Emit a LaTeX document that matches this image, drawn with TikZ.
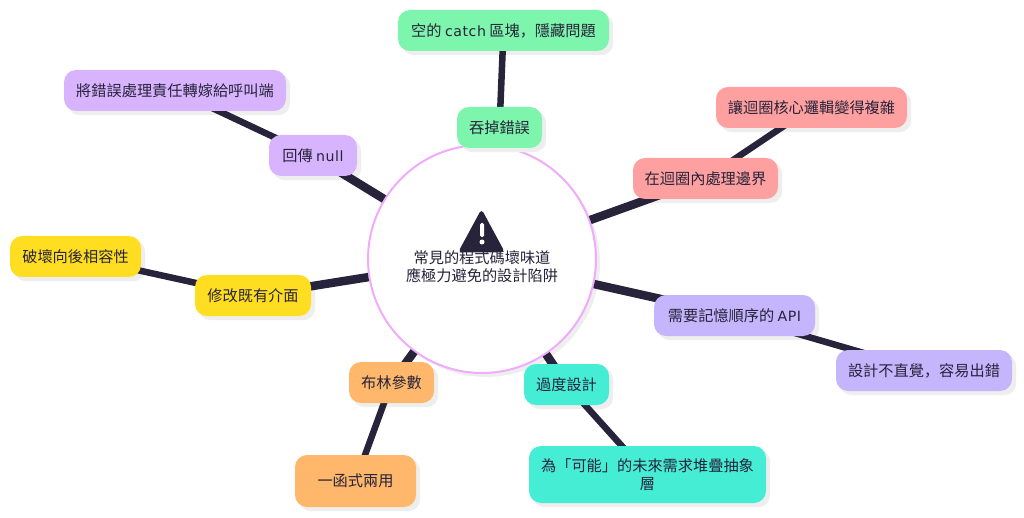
\documentclass[tikz,border=0pt]{standalone}
\usepackage{fontspec}
\setmainfont{Noto Sans CJK SC}
\newfontfamily\latinfont{DejaVu Sans}[Scale=0.93,LetterSpace=4]
\usetikzlibrary{shadows,backgrounds}
\definecolor{inkdark}{HTML}{27233A}
\definecolor{shadowgray}{HTML}{EEEEEE}
\definecolor{greenbox}{HTML}{7DF5AC}
\definecolor{redbox}{HTML}{FFA0A0}
\definecolor{lilacbox}{HTML}{D8B4FE}
\definecolor{violetbox}{HTML}{C4B5FD}
\definecolor{tealbox}{HTML}{46EDD5}
\definecolor{orangebox}{HTML}{FFB86B}
\definecolor{yellowbox}{HTML}{FFDE21}
\definecolor{rootline}{HTML}{F0ABFC}
\tikzstyle{topic} = [rectangle, rounded corners=12pt, minimum height=41pt, inner sep=0pt, align=center, text=inkdark, font=\fontsize{15.2}{17.5}\selectfont]
\tikzstyle{root} = [circle, draw=rootline, line width=2pt, fill=white, minimum size=228pt, inner sep=0pt, drop shadow={shadow xshift=4pt, shadow yshift=-4pt, fill=shadowgray, opacity=1}]
\tikzstyle{caption} = [align=center, inner sep=0pt, text=inkdark, font=\fontsize{15.2}{17.5}\selectfont]
\tikzstyle{backing} = [fill=shadowgray, rounded corners=12pt]
\tikzstyle{branch} = [draw=inkdark, line width=8.5pt]
\tikzstyle{twig} = [draw=inkdark, line width=6.5pt]
\begin{document}
\begin{tikzpicture}[x=1pt,y=-1pt]
\useasboundingbox (0,0) rectangle (1024,518);
\fill [inkdark, rounded corners=4pt] (481.5,209) -- (458,252.5) -- (505,252.5) -- cycle;
\fill [white, rounded corners=1.5pt] (480,223) rectangle (484,237);
\fill [white] (482,242) circle (2.5pt);
\node (title) [caption] at (482,266.5) {常見的程式碼壞味道\\應極力避免的設計陷阱};

\node (swallow) [topic, fill=greenbox, minimum width=85pt] at (499.5,127.5) {吞掉錯誤};
\node (catch) [topic, fill=greenbox, minimum width=211pt] at (503.5,30.5) {空的 {\latinfont catch} 區塊，隱藏問題};
\node (bound) [topic, fill=redbox, minimum width=145pt] at (705.5,178.5) {在迴圈內處理邊界};
\node (loop) [topic, fill=redbox, minimum width=191pt] at (811.5,107.5) {讓迴圈核心邏輯變得複雜};
\node (order) [topic, fill=violetbox, minimum width=161pt] at (734.5,315.5) {需要記憶順序的 {\latinfont API}};
\node (intuit) [topic, fill=violetbox, minimum width=176pt] at (924,370.5) {設計不直覺，容易出錯};
\node (over) [topic, fill=tealbox, minimum width=85pt] at (566.5,384.5) {過度設計};
\node (stack) [topic, fill=tealbox, minimum width=237pt, minimum height=57pt] at (647.5,474.5) {為「可能」的未來需求堆疊抽象\\層};
\node (flag) [topic, fill=orangebox, minimum width=85pt] at (391.5,382.5) {布林參數};
\node (dual) [topic, fill=orangebox, minimum width=121pt, minimum height=52pt] at (355.5,481) {一函式兩用};
\node (change) [topic, fill=yellowbox, minimum width=116pt] at (253,295.5) {修改既有介面};
\node (compat) [topic, fill=yellowbox, minimum width=131pt] at (75.5,256.5) {破壞向後相容性};
\node (null) [topic, fill=lilacbox, minimum width=88pt] at (313,155.5) {回傳 {\latinfont null}};
\node (caller) [topic, fill=lilacbox, minimum width=222pt] at (175,90.5) {將錯誤處理責任轉嫁給呼叫端};

\begin{scope}[on background layer]
\node (root) [root] at (482,259) {};
% shadows sit under the connectors
\foreach \child in {swallow,catch,bound,loop,order,intuit,over,stack,flag,dual,change,compat,null,caller}
  \fill [backing] ([shift={(4,4)}]\child.north west) rectangle ([shift={(4,4)}]\child.south east);
\foreach \child in {swallow,bound,order,over,flag,change,null}
  \draw [branch] (root) -- (\child.center);
\foreach \parent/\child in {swallow/catch,bound/loop,order/intuit,over/stack,flag/dual,change/compat,null/caller}
  \draw [twig] (\parent.center) -- (\child.center);
\end{scope}
\end{tikzpicture}
\end{document}
